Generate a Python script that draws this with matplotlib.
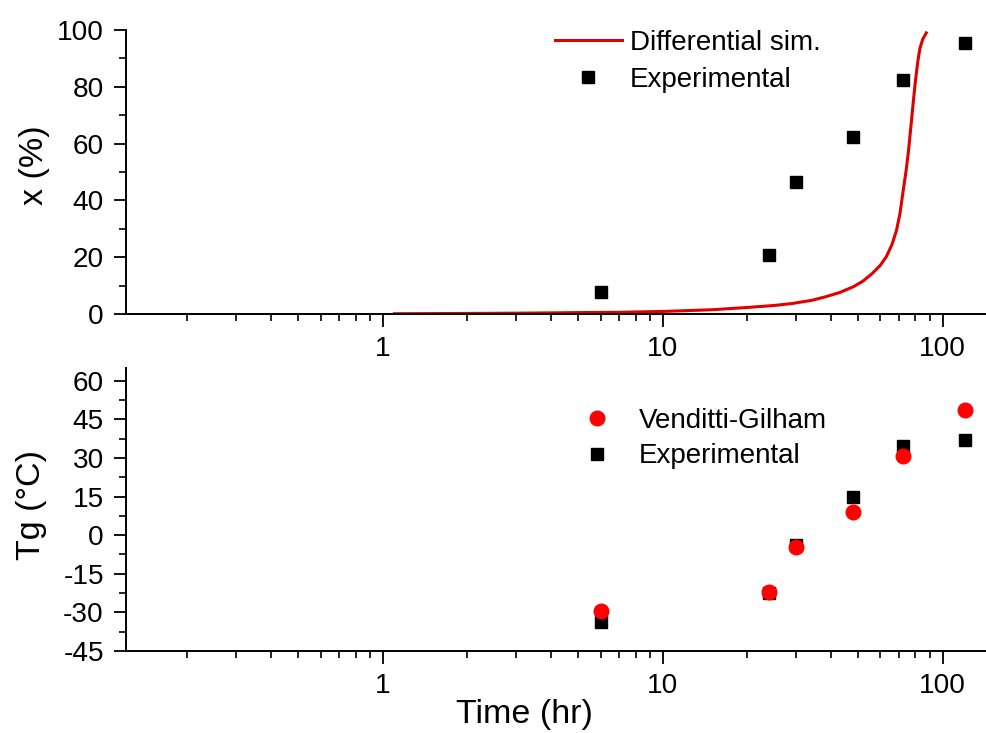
import numpy as np
import matplotlib
matplotlib.use("Agg")
import matplotlib.pyplot as plt
from matplotlib.ticker import FixedLocator, MultipleLocator, FuncFormatter

plt.rcParams['font.family'] = ['Liberation Sans', 'DejaVu Sans']
plt.rcParams['axes.unicode_minus'] = False

# experimental sampling times (hr)
exp_time = [6, 24, 30, 48, 72, 120]
exp_conv = [7.6, 20.9, 46.4, 62.2, 82.4, 95.5]      # x (%)
exp_tg = [-33.6, -22.6, -3.9, 15.0, 34.8, 36.9]      # Tg (C)
vg_tg = [-29.5, -22.0, -4.7, 8.9, 30.8, 48.6]        # Venditti-Gilham

# differential simulation curve
sim_time = [1.1, 1.5, 2, 3, 4, 5, 7, 10, 15, 20, 25, 29, 34, 38, 43, 48,
            52, 56, 60, 63, 66, 68.5, 70.5, 72, 74, 75.5, 77, 78.5,
            80, 81.5, 83, 85, 87.5]
sim_conv = [0.1, 0.15, 0.2, 0.3, 0.4, 0.5, 0.6, 0.9, 1.5, 2.3, 3.0, 3.7,
            4.8, 6.0, 7.6, 9.6, 11.6, 14.2, 17.2, 20.2, 24.5, 29.5, 35.5,
            42.0, 50.0, 57.0, 65.5, 74.0, 82.0, 88.5, 93.5, 96.8, 99.0]

fig = plt.figure(figsize=(9.86, 7.33), dpi=100)
ax1 = fig.add_axes([0.1278, 0.5716, 0.8722, 0.3874])
ax2 = fig.add_axes([0.1278, 0.1119, 0.8722, 0.3861])

ax1.plot(sim_time, sim_conv, color='#e00000', lw=2.2, label='Differential sim.')
ax1.plot(exp_time, exp_conv, 's', color='black', ms=9.3, label='Experimental')

ax2.plot(exp_time, vg_tg, 'o', color='#ff0000', ms=10.5, label='Venditti-Gilham', zorder=3)
ax2.plot(exp_time, exp_tg, 's', color='black', ms=9.3, label='Experimental', zorder=2)

for ax in (ax1, ax2):
    ax.set_xscale('log')
    ax.set_xlim(0.121, 143)
    ax.spines['top'].set_visible(False)
    ax.spines['right'].set_visible(False)
    for s in ('left', 'bottom'):
        ax.spines[s].set_linewidth(1.4)
    ax.xaxis.set_major_locator(FixedLocator([1, 10, 100]))
    ax.xaxis.set_minor_locator(FixedLocator(
        [m * 10.0 ** e for e in (-1, 0, 1, 2) for m in range(2, 10)]))
    ax.xaxis.set_major_formatter(FuncFormatter(lambda v, p: '%g' % v))
    ax.xaxis.set_minor_formatter(FuncFormatter(lambda v, p: ''))
    ax.tick_params(which='major', direction='out', length=9, width=1.3,
                   labelsize=20.2, pad=7)
    ax.tick_params(which='minor', direction='out', length=5, width=1.2)

ax1.set_ylim(0, 100)
ax1.yaxis.set_major_locator(MultipleLocator(20))
ax1.yaxis.set_minor_locator(MultipleLocator(10))
ax1.set_ylabel('x (%)', fontsize=24.5)
ax1.yaxis.set_label_coords(-0.088, 0.525)

ax2.set_ylim(-45, 65)
ax2.set_yticks([-45, -30, -15, 0, 15, 30, 45, 60])
ax2.yaxis.set_minor_locator(FixedLocator(np.arange(-37.5, 65, 15)))
ax2.set_ylabel('Tg (°C)', fontsize=24.5)
ax2.yaxis.set_label_coords(-0.092, 0.516)
ax2.set_xlabel('Time (hr)', fontsize=24.5)
ax2.xaxis.set_label_coords(0.463, -0.17)

ax1.legend(loc='upper left', bbox_to_anchor=(0.499, 1.0), frameon=False,
           fontsize=20, handlelength=2.4, handletextpad=0.3,
           borderpad=0, borderaxespad=0, labelspacing=0.4)
ax2.legend(loc='upper left', bbox_to_anchor=(0.5087, 0.86), frameon=False,
           fontsize=20, handlelength=2.4, handletextpad=0.3,
           borderpad=0, borderaxespad=0, labelspacing=0.35)

fig.savefig('out.png', dpi=100)
